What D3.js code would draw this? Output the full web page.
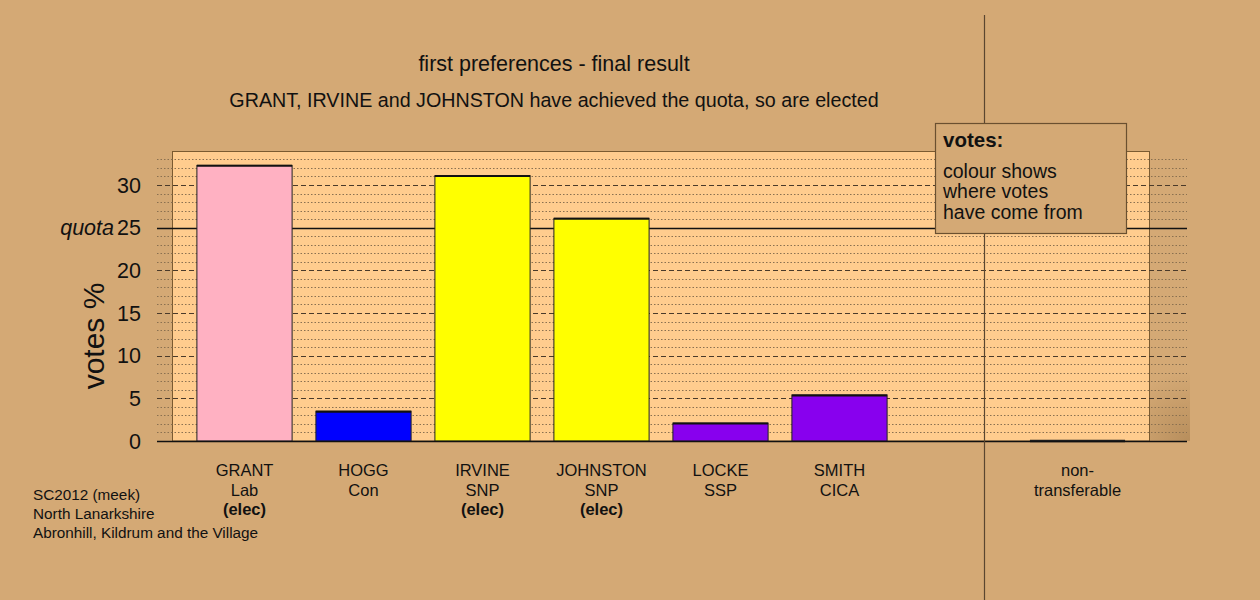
<!DOCTYPE html>
<html><head><meta charset="utf-8">
<script src="https://cdn.jsdelivr.net/npm/d3@7"></script>
<style>body{margin:0;background:#D4A975;} svg{display:block;font-family:"Liberation Sans",Arial,sans-serif;}</style>
</head><body>
<svg id="c" width="1260" height="600"></svg>
<script>
const slots = ["GRANT","HOGG","IRVINE","JOHNSTON","LOCKE","SMITH","gap","nontrans"];
const candidates = ["GRANT","HOGG","IRVINE","JOHNSTON","LOCKE","SMITH","nontrans"];
const labelLine1 = ["GRANT","HOGG","IRVINE","JOHNSTON","LOCKE","SMITH","non-"];
const labelLine2 = ["Lab","Con","SNP","SNP","SSP","CICA","transferable"];
const elected = [true,false,true,true,false,false,false];
const votes = [32.3, 3.5, 31.1, 26.1, 2.1, 5.4, 0];
const colours = ["#FFB1C2","#0000FF","#FFFF00","#FFFF00","#8800EE","#8800EE","#FFCC90"];
const yTicks = [0,5,10,15,20,25,30];
const quota = 25;
const titles = ["first preferences - final result","GRANT, IRVINE and JOHNSTON have achieved the quota, so are elected"];
const footnote = ["SC2012 (meek)","North Lanarkshire","Abronhill, Kildrum and the Village"];
const legendLines = ["colour shows","where votes","have come from"];

const svg = d3.select("#c");
const x = d3.scaleBand().domain(slots).range([185,1137]).paddingInner(0.2).paddingOuter(0.1);
const y = d3.scaleLinear().domain([0,30]).range([441,185]);

svg.append("rect").attr("width",1260).attr("height",600).attr("fill","#D4A975");

// soft shade right of panel (bottom)
const defs = svg.append("defs");
const rg = defs.append("radialGradient").attr("id","sh").attr("gradientUnits","userSpaceOnUse")
  .attr("cx",1190).attr("cy",441).attr("r",70);
rg.append("stop").attr("offset","0").attr("stop-color","#a07848").attr("stop-opacity",0.55);
rg.append("stop").attr("offset","1").attr("stop-color","#a07848").attr("stop-opacity",0);
svg.append("rect").attr("x",1150).attr("y",370).attr("width",40).attr("height",71).attr("fill","url(#sh)");

// panel
svg.append("rect").attr("x",172.5).attr("y",151.5).attr("width",977).attr("height",y(0)-151.5)
  .attr("fill","#FFCC8E").attr("stroke","#7a5a30").attr("stroke-width",1);

// grid lines
const gx0 = 157, gx1 = 1187;
const dotted = d3.range(1,34).filter(v => v % 5 !== 0);
svg.append("g").selectAll("line").data(dotted).join("line")
  .attr("x1",gx0).attr("x2",gx1).attr("y1",d=>Math.round(y(d))+0.5).attr("y2",d=>Math.round(y(d))+0.5)
  .attr("stroke","#8a7050").attr("stroke-width",1).attr("stroke-dasharray","1.5,2");
svg.append("g").selectAll("line").data(yTicks.filter(v=>v!==0 && v!==quota)).join("line")
  .attr("x1",gx0).attr("x2",gx1).attr("y1",d=>Math.round(y(d))+0.5).attr("y2",d=>Math.round(y(d))+0.5)
  .attr("stroke","#4a3a2a").attr("stroke-width",1).attr("stroke-dasharray","5,3");
svg.append("line").attr("x1",gx0).attr("x2",gx1).attr("y1",Math.round(y(quota))+0.5).attr("y2",Math.round(y(quota))+0.5)
  .attr("stroke","#111").attr("stroke-width",1.5);

// bars
const bars = svg.append("g");
candidates.forEach((c,i)=>{
  const bx = x(c), bw = x.bandwidth(), top = y(votes[i]);
  if (votes[i] > 0) {
    bars.append("rect").attr("x",bx).attr("y",top).attr("width",bw).attr("height",y(0)-top)
      .attr("fill",colours[i]).attr("stroke","#222").attr("stroke-width",1);
    bars.append("line").attr("x1",bx).attr("x2",bx+bw).attr("y1",top+0.5).attr("y2",top+0.5)
      .attr("stroke","#111").attr("stroke-width",2);
  } else {
    bars.append("line").attr("x1",bx).attr("x2",bx+bw).attr("y1",y(0)).attr("y2",y(0))
      .attr("stroke","#222").attr("stroke-width",2.5);
  }
});

// baseline
svg.append("line").attr("x1",gx0).attr("x2",gx1).attr("y1",y(0)+0.5).attr("y2",y(0)+0.5)
  .attr("stroke","#111").attr("stroke-width",1.5);

// y tick labels
svg.append("g").selectAll("text").data(yTicks).join("text")
  .attr("x",141).attr("y",d=>y(d)+7.5).attr("text-anchor","end").attr("font-size",21.5).attr("fill","#111")
  .text(d=>d);
svg.append("text").attr("x",114).attr("y",y(quota)+7.5).attr("text-anchor","end").attr("font-size",21.5)
  .attr("font-style","italic").attr("fill","#111").text("quota");
svg.append("text").attr("transform","translate(104,336) rotate(-90)").attr("text-anchor","middle")
  .attr("font-size",30).attr("fill","#111").text("votes %");

// category labels
const lab = svg.append("g").attr("font-size",16.5).attr("fill","#111").attr("text-anchor","middle");
candidates.forEach((c,i)=>{
  const cx = x(c)+x.bandwidth()/2;
  lab.append("text").attr("x",cx).attr("y",476).text(labelLine1[i]);
  lab.append("text").attr("x",cx).attr("y",496).text(labelLine2[i]);
  if (elected[i]) lab.append("text").attr("x",cx).attr("y",515).attr("font-weight","bold").text("(elec)");
});

// titles
svg.append("text").attr("x",554).attr("y",71).attr("text-anchor","middle").attr("font-size",21.5).attr("fill","#111").text(titles[0]);
svg.append("text").attr("x",554).attr("y",107).attr("text-anchor","middle").attr("font-size",19.7).attr("fill","#111").text(titles[1]);

// footnote
svg.append("g").selectAll("text").data(footnote).join("text")
  .attr("x",33).attr("y",(d,i)=>500+i*19).attr("font-size",15.3).attr("fill","#111").text(d=>d);

// vertical separator
svg.append("line").attr("x1",984.5).attr("x2",984.5).attr("y1",15).attr("y2",600)
  .attr("stroke","#5a4630").attr("stroke-width",1.2);

// legend
svg.append("rect").attr("x",935.5).attr("y",123.5).attr("width",191).attr("height",110)
  .attr("fill","#D4A975").attr("stroke","#6a5030").attr("stroke-width",1.2);
svg.append("text").attr("x",943).attr("y",147).attr("font-size",20.5).attr("font-weight","bold").attr("fill","#111").text("votes:");
svg.append("g").selectAll("text").data(legendLines).join("text")
  .attr("x",943).attr("y",(d,i)=>177.5+i*20.5).attr("font-size",19.5).attr("fill","#111").text(d=>d);
</script>
</body></html>
